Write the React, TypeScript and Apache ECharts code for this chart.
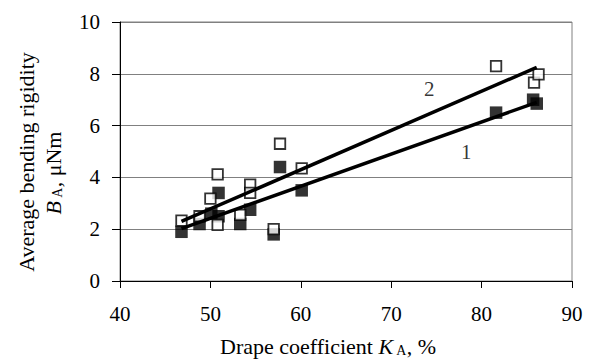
import React, { useEffect, useRef } from "react";
import * as echarts from "echarts";

// Series 1 (filled squares): [drape coefficient %, bending rigidity µNm]
const filledPoints: number[][] = [
  [46.8, 1.9], [48.8, 2.2], [50.1, 2.6], [50.9, 3.4], [50.9, 2.5],
  [53.3, 2.2], [54.4, 2.75], [57.0, 1.8], [57.7, 4.4], [60.1, 3.5],
  [81.6, 6.5], [85.7, 7.0], [86.1, 6.85],
];
// Series 2 (open squares)
const openPoints: number[][] = [
  [46.8, 2.33], [48.8, 2.5], [50.0, 3.18], [50.8, 4.12], [50.8, 2.17],
  [53.3, 2.55], [54.4, 3.72], [54.4, 3.4], [57.0, 2.0], [57.7, 5.3],
  [60.1, 4.35], [81.6, 8.3], [85.8, 7.66], [86.3, 7.98],
];
// Fit line end points
const fit1: number[][] = [[46.8, 2.02], [86.1, 6.9]];
const fit2: number[][] = [[46.8, 2.3], [86.1, 8.25]];
// Curve labels
const curveLabels: (number | string)[][] = [[78.3, 5.0, "1"], [74.2, 7.4, "2"]];

const xTicks = { min: 40, max: 90, interval: 10 };
const yTicks = { min: 0, max: 10, interval: 2 };

const FONT = "Liberation Serif";

export default function App() {
  const ref = useRef<HTMLDivElement>(null);
  useEffect(() => {
    if (!ref.current) return;
    const chart = echarts.init(ref.current, undefined, { renderer: "svg" });
    const rich = {
      i: { fontFamily: FONT, fontSize: 22, fontStyle: "italic", color: "#000" },
      s: { fontFamily: FONT, fontSize: 14, color: "#000", padding: [9, 0, 0, 0] },
      n: { fontFamily: FONT, fontSize: 22, color: "#000" },
    };
    const tickRich = { t: { fontFamily: FONT, fontSize: 21, color: "#000" } };
    chart.setOption({
      animation: false,
      backgroundColor: "#fff",
      textStyle: { fontFamily: FONT, color: "#000" },
      grid: {
        left: 120, right: 18, top: 22, bottom: 80,
        show: true, borderColor: "#808080", borderWidth: 1,
      },
      xAxis: {
        type: "value",
        min: xTicks.min, max: xTicks.max, interval: xTicks.interval,
        axisLine: { show: true, onZero: false, lineStyle: { color: "#000", width: 1 } },
        axisTick: { show: true, inside: false, length: 7, lineStyle: { color: "#000" } },
        axisLabel: {
          fontFamily: FONT, fontSize: 21, color: "#000", margin: 22,
          formatter: (v: number) => `{t|${v}}`, rich: tickRich,
        },
        splitLine: { show: false },
      },
      yAxis: {
        type: "value",
        min: yTicks.min, max: yTicks.max, interval: yTicks.interval,
        axisLine: { show: true, onZero: false, lineStyle: { color: "#000", width: 1 } },
        axisTick: { show: true, inside: false, length: 8, lineStyle: { color: "#000" } },
        axisLabel: {
          fontFamily: FONT, fontSize: 21, color: "#000", margin: 20,
          formatter: (v: number) => `{t|${v}}`, rich: tickRich,
        },
        splitLine: { show: true, lineStyle: { color: "#808080", width: 1 } },
      },
      series: [
        {
          type: "scatter",
          data: filledPoints,
          symbol: "rect",
          symbolSize: 12.5,
          itemStyle: { color: "#000" },
          z: 2,
        },
        {
          type: "scatter",
          data: openPoints,
          symbol: "rect",
          symbolSize: 10.5,
          itemStyle: { color: "#fff", borderColor: "#000", borderWidth: 1.8 },
          z: 3,
        },
        {
          type: "line",
          data: fit1,
          showSymbol: false,
          lineStyle: { color: "#000", width: 3.5 },
          z: 4,
        },
        {
          type: "line",
          data: fit2,
          showSymbol: false,
          lineStyle: { color: "#000", width: 3.5 },
          z: 4,
        },
        {
          type: "scatter",
          data: curveLabels,
          symbolSize: 0,
          z: 5,
          label: {
            show: true,
            position: "inside",
            formatter: (p: any) => String(p.value[2]),
            fontFamily: FONT,
            fontSize: 21,
            color: "#000",
          },
        },
      ],
      graphic: [
        {
          type: "text",
          x: 26, y: 162,
          rotation: Math.PI / 2,
          style: {
            text: "Average bending rigidity",
            fontFamily: FONT,
            fontSize: 22,
            fill: "#000",
            align: "center",
            verticalAlign: "middle",
          },
        },
        {
          type: "text",
          x: 53, y: 173,
          rotation: Math.PI / 2,
          style: {
            text: "{i|B}{s| A}{n|, μNm}",
            align: "center",
            verticalAlign: "middle",
            rich,
          },
        },
        {
          type: "text",
          x: 328, y: 346,
          style: {
            text: "{n|Drape coefficient }{i|K}{s| A}{n|, %}",
            align: "center",
            verticalAlign: "middle",
            rich,
          },
        },
      ],
    });
    return () => chart.dispose();
  }, []);
  return (
    <div
      ref={ref}
      style={{ position: "absolute", left: 0, top: 0, width: 590, height: 361 }}
    />
  );
}
